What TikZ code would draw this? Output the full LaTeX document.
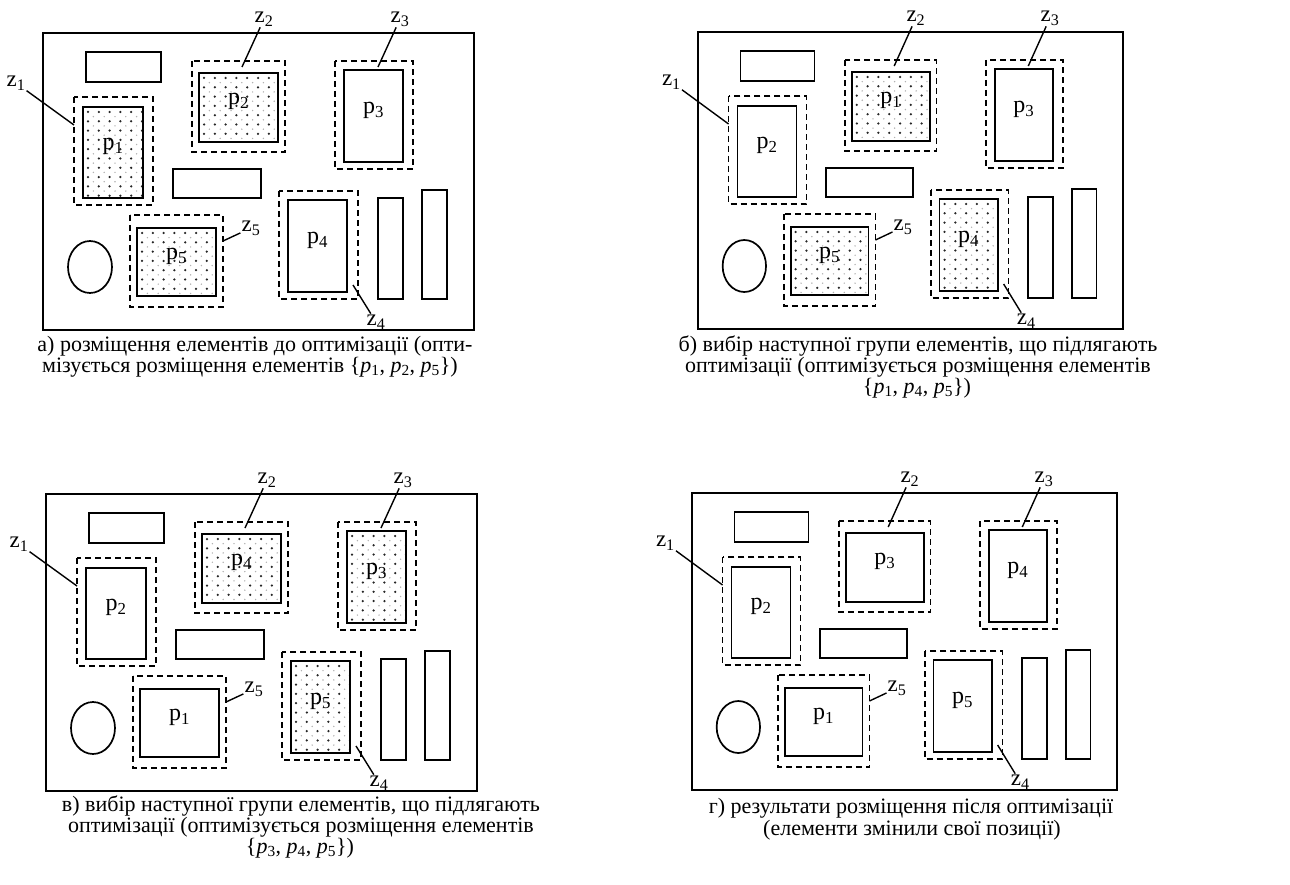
\documentclass[tikz,border=0pt]{standalone}
\usepackage{fontspec}
\setmainfont{Liberation Serif}
\usetikzlibrary{fit}
\tikzset{
  board/.style={line width=1.7pt},
  part/.style={line width=1.7pt},
  zonedash/.style={line width=1.7pt, dash pattern=on 6pt off 4pt},
  elem/.style={draw, line width=1.7pt, inner sep=0pt, font=\fontsize{24}{24}\selectfont},
  dotfill/.style={path picture={%
    \foreach \i in {0,...,9}{\foreach \j in {0,...,12}{%
      \fill[black!85] ([shift={(\i*10.8+5,\j*9.3+5)}]path picture bounding box.north west) circle (1.25pt);
      \fill[black!30] ([shift={(\i*10.8+10.4,\j*9.3+9.65)}]path picture bounding box.north west) circle (0.8pt);
    }}}},
  zlabel/.style={inner sep=1pt, font=\fontsize{23}{23}\selectfont},
  leader/.style={line width=1.4pt},
  capline/.style={anchor=base, inner sep=0pt, font=\fontsize{22}{22}\selectfont},
}
\newcommand{\plab}[1]{p\textsubscript{#1}}
\newcommand{\Zlab}[4]{%
  \coordinate (#1-e) at #4;
  \node[zlabel] (#1) at #2 {#3};
  \draw[leader] (#1-e) -- (#1);}
\newcommand{\Zone}[7]{%
  \draw[zonedash] #2 rectangle #3;
  \node[elem, fit={#4 #5}, #6] (#1) {#7};}
\newcommand{\BoardBase}[1]{%
  \draw[board] (0,0) rectangle (431,297);
  \draw[part] (43,19) rectangle (118,49);
  \draw[part] (130,136) rectangle (218,165);
  \draw[part] (47,234) ellipse [x radius=22, y radius=26];
  \draw[part] (335,165) rectangle (360,266);
  \draw[part] (379,157) rectangle (404,266);
  \Zlab{#1z1}{(-27,50)}{z\textsubscript{1}}{(31,92)}
  \Zlab{#1z2}{(221,-14)}{z\textsubscript{2}}{(199,34)}
  \Zlab{#1z3}{(357,-14)}{z\textsubscript{3}}{(335,34)}
  \Zlab{#1z4}{(333,289)}{z\textsubscript{4}}{(310,252)}
  \Zlab{#1z5}{(208,195)}{z\textsubscript{5}}{(180,208)}}
\newcommand{\ZoneI}[3]{\Zone{#1}{(31,64)}{(110,172)}{(40,74)}{(100,165)}{#2}{#3}}
\newcommand{\ZoneII}[3]{\Zone{#1}{(149,28)}{(242,119)}{(156,40)}{(235,109)}{#2}{#3}}
\newcommand{\ZoneIII}[3]{\Zone{#1}{(292,28)}{(370,136)}{(301,37)}{(360,129)}{#2}{#3}}
\newcommand{\ZoneIV}[3]{\Zone{#1}{(236,158)}{(315,266)}{(245,167)}{(304,259)}{#2}{#3}}
\newcommand{\ZoneV}[3]{\Zone{#1}{(87,182)}{(180,274)}{(94,195)}{(173,263)}{#2}{#3}}
\newcommand{\ps}[1]{\textit{p}\textsubscript{#1}}
\begin{document}
\begin{tikzpicture}[x=1pt, y=-1pt]
\useasboundingbox (0,0) rectangle (1290,885);
% panel a
\begin{scope}[shift={(43,33)}]
  \BoardBase{a}
  \ZoneI{aP1}{dotfill}{\plab{1}}
  \ZoneII{aP2}{dotfill}{\plab{2}}
  \ZoneIII{aP3}{}{\plab{3}}
  \ZoneIV{aP4}{}{\plab{4}}
  \ZoneV{aP5}{dotfill}{\plab{5}}
\end{scope}
\node[capline] (capa1) at (255,351) {а) розміщення елементів до оптимізації (опти-};
\node[capline] (capa2) at (250,372) {мізується розміщення елементів \{\ps{1}, \ps{2}, \ps{5}\})};
% panel b
\begin{scope}[shift={(698,32)}, xscale=0.986]
  \BoardBase{b}
  \ZoneI{bP2}{}{\plab{2}}
  \ZoneII{bP1}{dotfill}{\plab{1}}
  \ZoneIII{bP3}{}{\plab{3}}
  \ZoneIV{bP4}{dotfill}{\plab{4}}
  \ZoneV{bP5}{dotfill}{\plab{5}}
\end{scope}
\node[capline] (capb1) at (918,351) {б) вибір наступної групи елементів, що підлягають};
\node[capline] (capb2) at (918,372) {оптимізації (оптимізується розміщення елементів};
\node[capline] (capb3) at (917,393) {\{\ps{1}, \ps{4}, \ps{5}\})};
% panel c
\begin{scope}[shift={(46,494)}]
  \BoardBase{c}
  \ZoneI{cP2}{}{\plab{2}}
  \ZoneII{cP4}{dotfill}{\plab{4}}
  \ZoneIII{cP3}{dotfill}{\plab{3}}
  \ZoneIV{cP5}{dotfill}{\plab{5}}
  \ZoneV{cP1}{}{\plab{1}}
\end{scope}
\node[capline] (capc1) at (301,811) {в) вибір наступної групи елементів, що підлягають};
\node[capline] (capc2) at (301,832) {оптимізації (оптимізується розміщення елементів};
\node[capline] (capc3) at (300,853) {\{\ps{3}, \ps{4}, \ps{5}\})};
% panel d
\begin{scope}[shift={(692,493)}, xscale=0.986]
  \BoardBase{d}
  \ZoneI{dP2}{}{\plab{2}}
  \ZoneII{dP3}{}{\plab{3}}
  \ZoneIII{dP4}{}{\plab{4}}
  \ZoneIV{dP5}{}{\plab{5}}
  \ZoneV{dP1}{}{\plab{1}}
\end{scope}
\node[capline] (capd1) at (911,813) {г) результати розміщення після оптимізації};
\node[capline] (capd2) at (912,835) {(елементи змінили свої позиції)};
\end{tikzpicture}
\end{document}
